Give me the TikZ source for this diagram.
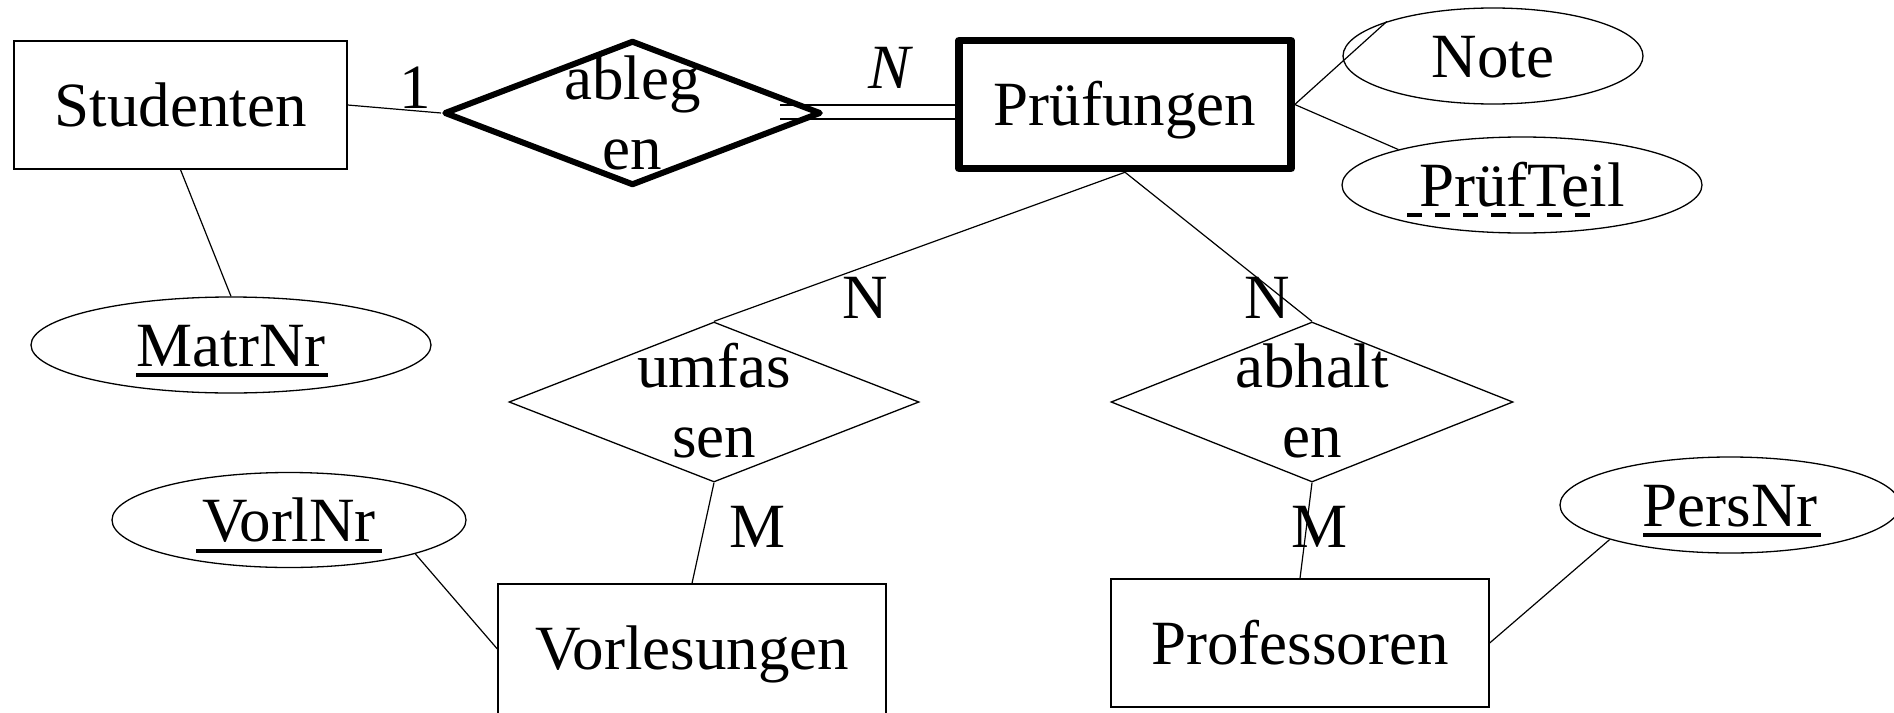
\documentclass[tikz,border=0pt]{standalone}
\usepackage{fontspec}
\setmainfont{Liberation Serif}
\usetikzlibrary{shapes.geometric}
\tikzset{
 lbl/.style={font=\fontsize{63}{70}\selectfont, inner sep=0pt, text height=42pt, text depth=0pt},
 ent/.style={lbl, draw, rectangle, line width=1.3pt},
 attr/.style={lbl, draw, ellipse, line width=1.3pt},
 rel/.style={draw, diamond, inner sep=0pt, line width=1.3pt},
 conn/.style={line width=1.2pt},
 keyline/.style={line width=3.5pt},
 rtxt/.style={font=\fontsize{63}{70}\selectfont, inner sep=0pt, align=center},
}
\begin{document}
\begin{tikzpicture}[x=1pt,y=-1pt]
\useasboundingbox (0,0) rectangle (1894,712);
% entities, relationships, attributes
\node[ent, minimum width=333pt, minimum height=128pt] (stud) at (180.5,105) {Studenten};
\node[rel, line width=6pt, line join=round, minimum width=377pt, minimum height=145pt] (ableg) at (632.5,113) {};
\node[rtxt] (ablegt) at (632.5,112.5) {ableg\\en};
\node[ent, line width=7.5pt, line join=round, minimum width=332pt, minimum height=128pt] (pruef) at (1125,104.5) {Prüfungen};
\node[attr, minimum width=300pt, minimum height=96pt] (note) at (1493,56) {Note};
\node[attr, minimum width=360pt, minimum height=96pt] (teil) at (1522,185) {PrüfTeil};
\node[attr, minimum width=400pt, minimum height=96pt] (matr) at (231,345) {MatrNr};
\node[rel, minimum width=410pt, minimum height=160pt] (umf) at (714,402) {};
\node[rtxt] (umft) at (714,400.5) {umfas\\sen};
\node[rel, minimum width=402pt, minimum height=160pt] (abh) at (1312,402) {};
\node[rtxt] (abht) at (1312,400.5) {abhalt\\en};
\node[attr, minimum width=354pt, minimum height=95pt] (vorlnr) at (289,520) {VorlNr};
\node[ent, text depth=12pt, minimum width=388pt, minimum height=140pt] (vorl) at (692,654) {Vorlesungen};
\node[ent, minimum width=378pt, minimum height=128pt] (prof) at (1300,643) {Professoren};
\node[attr, minimum width=340pt, minimum height=96pt] (pers) at (1730,505) {PersNr};
% cardinalities
\node[lbl] (c1) at (415,87) {1};
\node[lbl] (cN1) at (891,67) {\textit{N}};
\node[lbl] (cN2) at (865,297) {N};
\node[lbl] (cN3) at (1267,297) {N};
\node[lbl] (cM1) at (757,526) {M};
\node[lbl] (cM2) at (1319,526) {M};
% connectors
\draw[conn] (stud.east) -- (ableg.west);
\draw[conn] (stud.south) -- (matr.north);
\coordinate (d1) at ([shift={(-44,-8)}]ableg.east);
\coordinate (d2) at ([shift={(-44,6)}]ableg.east);
\draw[conn] (d1) -- (d1 -| pruef.west);
\draw[conn] (d2) -- (d2 -| pruef.west);
\draw[conn] (pruef.east) -- (note.162);
\draw[conn] (pruef.east) -- (teil.164.5);
\draw[conn] (pruef.south) -- (umf.north);
\draw[conn] (pruef.south) -- (abh.north);
\draw[conn] (umf.south) -- (vorl.north);
\draw[conn] (abh.south) -- (prof.north);
\draw[conn] (vorlnr.-15.4) -- ([shift={(0,-5)}]vorl.west);
\draw[conn] (pers.196) -- (prof.east);
% key underlines
\draw[keyline] ([shift={(-95,30)}]matr.center) -- ([shift={(97,30)}]matr.center);
\draw[keyline] ([shift={(-93,31)}]vorlnr.center) -- ([shift={(93,31)}]vorlnr.center);
\draw[keyline] ([shift={(-87,30)}]pers.center) -- ([shift={(91,30)}]pers.center);
\draw[line width=4pt, dash pattern=on 15pt off 13pt] ([shift={(-115,30)}]teil.center) -- ([shift={(68,30)}]teil.center);
\end{tikzpicture}
\end{document}
